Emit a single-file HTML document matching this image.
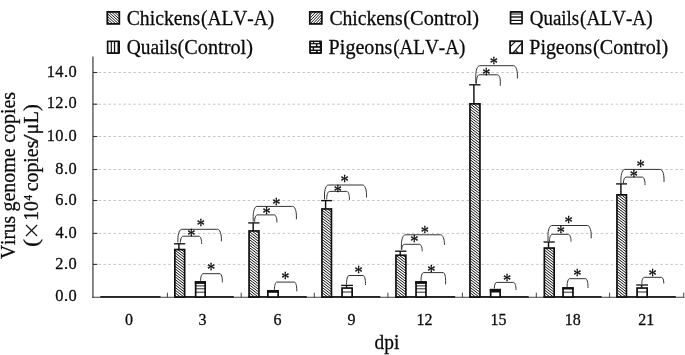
<!DOCTYPE html>
<html><head><meta charset="utf-8"><title>chart</title>
<style>html,body{margin:0;padding:0;background:#fff;}svg{display:block;will-change:transform;filter:grayscale(1);}text{font-family:"Liberation Serif",serif;fill:#0a0a0a;font-kerning:none;stroke:#0a0a0a;stroke-width:0.28px;}</style></head><body>
<svg width="685" height="355" viewBox="0 0 685 355">
<defs>
<pattern id="pd" width="1.8" height="1.8" patternUnits="userSpaceOnUse" patternTransform="rotate(45)"><rect width="1.8" height="1.8" fill="#fff"/><rect width="1.8" height="0.9" fill="#111"/></pattern>
<pattern id="pu" width="2.2" height="2.2" patternUnits="userSpaceOnUse" patternTransform="rotate(-45)"><rect width="2.2" height="2.2" fill="#fff"/><rect width="2.2" height="1.0" fill="#333"/></pattern>
</defs>
<rect width="685" height="355" fill="#fff"/>
<line x1="93.63" x2="684" y1="264.40" y2="264.40" stroke="#c6c6c6" stroke-width="1" stroke-dasharray="2.45 2.522"/>
<line x1="93.63" x2="684" y1="233.40" y2="233.40" stroke="#c6c6c6" stroke-width="1" stroke-dasharray="2.45 2.522"/>
<line x1="93.63" x2="684" y1="200.50" y2="200.50" stroke="#c6c6c6" stroke-width="1" stroke-dasharray="2.45 2.522"/>
<line x1="93.63" x2="684" y1="169.50" y2="169.50" stroke="#c6c6c6" stroke-width="1" stroke-dasharray="2.45 2.522"/>
<line x1="93.63" x2="684" y1="136.50" y2="136.50" stroke="#c6c6c6" stroke-width="1" stroke-dasharray="2.45 2.522"/>
<line x1="93.63" x2="684" y1="104.20" y2="104.20" stroke="#c6c6c6" stroke-width="1" stroke-dasharray="2.45 2.522"/>
<line x1="93.63" x2="684" y1="72.50" y2="72.50" stroke="#c6c6c6" stroke-width="1" stroke-dasharray="2.45 2.522"/>
<line x1="92.9" x2="92.9" y1="56.5" y2="297.7" stroke="#7a7a7a" stroke-width="1.8"/>
<line x1="92.0" x2="684.3" y1="297.3" y2="297.3" stroke="#404040" stroke-width="1.1"/>
<line x1="92.9" x2="97.30000000000001" y1="264.40" y2="264.40" stroke="#333" stroke-width="1.1"/>
<line x1="92.9" x2="97.30000000000001" y1="233.40" y2="233.40" stroke="#333" stroke-width="1.1"/>
<line x1="92.9" x2="97.30000000000001" y1="200.50" y2="200.50" stroke="#333" stroke-width="1.1"/>
<line x1="92.9" x2="97.30000000000001" y1="169.50" y2="169.50" stroke="#333" stroke-width="1.1"/>
<line x1="92.9" x2="97.30000000000001" y1="136.50" y2="136.50" stroke="#333" stroke-width="1.1"/>
<line x1="92.9" x2="97.30000000000001" y1="104.20" y2="104.20" stroke="#333" stroke-width="1.1"/>
<line x1="92.9" x2="97.30000000000001" y1="72.50" y2="72.50" stroke="#333" stroke-width="1.1"/>
<line x1="167.40" x2="167.40" y1="292.7" y2="297.6" stroke="#383838" stroke-width="0.95"/>
<line x1="241.20" x2="241.20" y1="292.7" y2="297.6" stroke="#383838" stroke-width="0.95"/>
<line x1="314.30" x2="314.30" y1="292.7" y2="297.6" stroke="#383838" stroke-width="0.95"/>
<line x1="387.90" x2="387.90" y1="292.7" y2="297.6" stroke="#383838" stroke-width="0.95"/>
<line x1="462.40" x2="462.40" y1="292.7" y2="297.6" stroke="#383838" stroke-width="0.95"/>
<line x1="536.30" x2="536.30" y1="292.7" y2="297.6" stroke="#383838" stroke-width="0.95"/>
<line x1="609.60" x2="609.60" y1="292.7" y2="297.6" stroke="#383838" stroke-width="0.95"/>
<line x1="683.70" x2="683.70" y1="292.7" y2="297.6" stroke="#383838" stroke-width="0.95"/>
<text x="55.28" y="300.90" font-size="16.4" letter-spacing="0.475">0.0</text>
<text x="55.18" y="268.50" font-size="16.4" letter-spacing="0.523">2.0</text>
<text x="55.58" y="237.50" font-size="16.4" letter-spacing="0.322">4.0</text>
<text x="55.20" y="204.60" font-size="16.4" letter-spacing="0.515">6.0</text>
<text x="55.28" y="173.60" font-size="16.4" letter-spacing="0.475">8.0</text>
<text x="46.66" y="140.60" font-size="16.4" letter-spacing="0.455">10.0</text>
<text x="46.66" y="108.30" font-size="16.4" letter-spacing="0.455">12.0</text>
<text x="46.66" y="76.60" font-size="16.4" letter-spacing="0.455">14.0</text>
<text x="124.95" y="324.50" font-size="16">0</text>
<text x="198.43" y="324.50" font-size="16">3</text>
<text x="273.49" y="324.50" font-size="16">6</text>
<text x="347.47" y="324.50" font-size="16">9</text>
<text x="416.54" y="324.50" font-size="16">12</text>
<text x="490.56" y="324.50" font-size="16">15</text>
<text x="564.85" y="324.50" font-size="16">18</text>
<text x="638.23" y="324.50" font-size="16">21</text>
<text x="374.60" y="349.00" font-size="20.8" textLength="24.77" lengthAdjust="spacingAndGlyphs">dpi</text>
<line x1="100.3" x2="160.5" y1="296.85" y2="296.85" stroke="#222" stroke-width="1.9"/>
<line x1="174.00" x2="233.80" y1="296.85" y2="296.85" stroke="#222" stroke-width="1.9"/>
<line x1="248.20" x2="306.80" y1="296.85" y2="296.85" stroke="#222" stroke-width="1.9"/>
<line x1="321.10" x2="380.30" y1="296.85" y2="296.85" stroke="#222" stroke-width="1.9"/>
<line x1="395.10" x2="455.20" y1="296.85" y2="296.85" stroke="#222" stroke-width="1.9"/>
<line x1="469.10" x2="528.70" y1="296.85" y2="296.85" stroke="#222" stroke-width="1.9"/>
<line x1="543.50" x2="601.60" y1="296.85" y2="296.85" stroke="#222" stroke-width="1.9"/>
<line x1="616.10" x2="675.80" y1="296.85" y2="296.85" stroke="#222" stroke-width="1.9"/>
<clipPath id="cb0"><rect x="174.85" y="249.55" width="9.80" height="47.45"/></clipPath><rect x="174.85" y="249.55" width="9.80" height="47.45" fill="#fff"/><path d="M173.85,235.97L185.65,245.06M173.85,238.63L185.65,247.72M173.85,241.29L185.65,250.38M173.85,243.95L185.65,253.04M173.85,246.61L185.65,255.70M173.85,249.27L185.65,258.36M173.85,251.93L185.65,261.02M173.85,254.59L185.65,263.68M173.85,257.25L185.65,266.34M173.85,259.91L185.65,269.00M173.85,262.57L185.65,271.66M173.85,265.23L185.65,274.32M173.85,267.89L185.65,276.98M173.85,270.55L185.65,279.64M173.85,273.21L185.65,282.30M173.85,275.87L185.65,284.96M173.85,278.53L185.65,287.62M173.85,281.19L185.65,290.28M173.85,283.85L185.65,292.94M173.85,286.51L185.65,295.60M173.85,289.17L185.65,298.26M173.85,291.83L185.65,300.92M173.85,294.49L185.65,303.58M173.85,297.15L185.65,306.24" stroke="#111" stroke-width="1.0" fill="none" clip-path="url(#cb0)"/><rect x="174.85" y="249.55" width="9.80" height="47.45" fill="none" stroke="#111" stroke-width="1.7"/>
<line x1="178.90" x2="178.90" y1="243.80" y2="249.20" stroke="#111" stroke-width="1.45"/>
<line x1="174.00" x2="185.20" y1="243.80" y2="243.80" stroke="#111" stroke-width="1.35"/>
<clipPath id="cb1"><rect x="249.05" y="230.95" width="9.90" height="66.05"/></clipPath><rect x="249.05" y="230.95" width="9.90" height="66.05" fill="#fff"/><path d="M248.05,217.35L259.95,226.51M248.05,220.01L259.95,229.17M248.05,222.67L259.95,231.83M248.05,225.33L259.95,234.49M248.05,227.99L259.95,237.15M248.05,230.65L259.95,239.81M248.05,233.31L259.95,242.47M248.05,235.97L259.95,245.13M248.05,238.63L259.95,247.79M248.05,241.29L259.95,250.45M248.05,243.95L259.95,253.11M248.05,246.61L259.95,255.77M248.05,249.27L259.95,258.43M248.05,251.93L259.95,261.09M248.05,254.59L259.95,263.75M248.05,257.25L259.95,266.41M248.05,259.91L259.95,269.07M248.05,262.57L259.95,271.73M248.05,265.23L259.95,274.39M248.05,267.89L259.95,277.05M248.05,270.55L259.95,279.71M248.05,273.21L259.95,282.37M248.05,275.87L259.95,285.03M248.05,278.53L259.95,287.69M248.05,281.19L259.95,290.35M248.05,283.85L259.95,293.01M248.05,286.51L259.95,295.67M248.05,289.17L259.95,298.33M248.05,291.83L259.95,300.99M248.05,294.49L259.95,303.65M248.05,297.15L259.95,306.31" stroke="#111" stroke-width="1.0" fill="none" clip-path="url(#cb1)"/><rect x="249.05" y="230.95" width="9.90" height="66.05" fill="none" stroke="#111" stroke-width="1.7"/>
<line x1="253.20" x2="253.20" y1="222.90" y2="230.60" stroke="#111" stroke-width="1.45"/>
<line x1="248.20" x2="259.50" y1="222.90" y2="222.90" stroke="#111" stroke-width="1.35"/>
<clipPath id="cb2"><rect x="321.95" y="208.95" width="9.50" height="88.05"/></clipPath><rect x="321.95" y="208.95" width="9.50" height="88.05" fill="#fff"/><path d="M320.95,196.07L332.45,204.92M320.95,198.73L332.45,207.58M320.95,201.39L332.45,210.24M320.95,204.05L332.45,212.90M320.95,206.71L332.45,215.56M320.95,209.37L332.45,218.22M320.95,212.03L332.45,220.88M320.95,214.69L332.45,223.54M320.95,217.35L332.45,226.20M320.95,220.01L332.45,228.86M320.95,222.67L332.45,231.52M320.95,225.33L332.45,234.18M320.95,227.99L332.45,236.84M320.95,230.65L332.45,239.50M320.95,233.31L332.45,242.16M320.95,235.97L332.45,244.82M320.95,238.63L332.45,247.48M320.95,241.29L332.45,250.14M320.95,243.95L332.45,252.80M320.95,246.61L332.45,255.46M320.95,249.27L332.45,258.12M320.95,251.93L332.45,260.78M320.95,254.59L332.45,263.44M320.95,257.25L332.45,266.10M320.95,259.91L332.45,268.76M320.95,262.57L332.45,271.42M320.95,265.23L332.45,274.08M320.95,267.89L332.45,276.75M320.95,270.55L332.45,279.41M320.95,273.21L332.45,282.07M320.95,275.87L332.45,284.73M320.95,278.53L332.45,287.39M320.95,281.19L332.45,290.05M320.95,283.85L332.45,292.71M320.95,286.51L332.45,295.37M320.95,289.17L332.45,298.03M320.95,291.83L332.45,300.69M320.95,294.49L332.45,303.35M320.95,297.15L332.45,306.01" stroke="#111" stroke-width="1.0" fill="none" clip-path="url(#cb2)"/><rect x="321.95" y="208.95" width="9.50" height="88.05" fill="none" stroke="#111" stroke-width="1.7"/>
<line x1="325.60" x2="325.60" y1="200.60" y2="208.60" stroke="#111" stroke-width="1.45"/>
<line x1="321.10" x2="332.00" y1="200.60" y2="200.60" stroke="#111" stroke-width="1.35"/>
<clipPath id="cb3"><rect x="395.95" y="255.25" width="9.90" height="41.75"/></clipPath><rect x="395.95" y="255.25" width="9.90" height="41.75" fill="#fff"/><path d="M394.95,243.95L406.85,253.11M394.95,246.61L406.85,255.77M394.95,249.27L406.85,258.43M394.95,251.93L406.85,261.09M394.95,254.59L406.85,263.75M394.95,257.25L406.85,266.41M394.95,259.91L406.85,269.07M394.95,262.57L406.85,271.73M394.95,265.23L406.85,274.39M394.95,267.89L406.85,277.05M394.95,270.55L406.85,279.71M394.95,273.21L406.85,282.37M394.95,275.87L406.85,285.03M394.95,278.53L406.85,287.69M394.95,281.19L406.85,290.35M394.95,283.85L406.85,293.01M394.95,286.51L406.85,295.67M394.95,289.17L406.85,298.33M394.95,291.83L406.85,300.99M394.95,294.49L406.85,303.65M394.95,297.15L406.85,306.31" stroke="#111" stroke-width="1.0" fill="none" clip-path="url(#cb3)"/><rect x="395.95" y="255.25" width="9.90" height="41.75" fill="none" stroke="#111" stroke-width="1.7"/>
<line x1="400.20" x2="400.20" y1="251.20" y2="254.90" stroke="#111" stroke-width="1.45"/>
<line x1="395.10" x2="406.40" y1="251.20" y2="251.20" stroke="#111" stroke-width="1.35"/>
<clipPath id="cb4"><rect x="469.95" y="103.85" width="10.00" height="193.15"/></clipPath><rect x="469.95" y="103.85" width="10.00" height="193.15" fill="#fff"/><path d="M468.95,92.33L480.95,101.57M468.95,94.99L480.95,104.23M468.95,97.65L480.95,106.89M468.95,100.31L480.95,109.55M468.95,102.97L480.95,112.21M468.95,105.63L480.95,114.87M468.95,108.29L480.95,117.53M468.95,110.95L480.95,120.19M468.95,113.61L480.95,122.85M468.95,116.27L480.95,125.51M468.95,118.93L480.95,128.17M468.95,121.59L480.95,130.83M468.95,124.25L480.95,133.49M468.95,126.91L480.95,136.15M468.95,129.57L480.95,138.81M468.95,132.23L480.95,141.47M468.95,134.89L480.95,144.13M468.95,137.55L480.95,146.79M468.95,140.21L480.95,149.45M468.95,142.87L480.95,152.11M468.95,145.53L480.95,154.77M468.95,148.19L480.95,157.43M468.95,150.85L480.95,160.09M468.95,153.51L480.95,162.75M468.95,156.17L480.95,165.41M468.95,158.83L480.95,168.07M468.95,161.49L480.95,170.73M468.95,164.15L480.95,173.39M468.95,166.81L480.95,176.05M468.95,169.47L480.95,178.71M468.95,172.13L480.95,181.37M468.95,174.79L480.95,184.03M468.95,177.45L480.95,186.69M468.95,180.11L480.95,189.35M468.95,182.77L480.95,192.01M468.95,185.43L480.95,194.67M468.95,188.09L480.95,197.33M468.95,190.75L480.95,199.99M468.95,193.41L480.95,202.65M468.95,196.07L480.95,205.31M468.95,198.73L480.95,207.97M468.95,201.39L480.95,210.63M468.95,204.05L480.95,213.29M468.95,206.71L480.95,215.95M468.95,209.37L480.95,218.61M468.95,212.03L480.95,221.27M468.95,214.69L480.95,223.93M468.95,217.35L480.95,226.59M468.95,220.01L480.95,229.25M468.95,222.67L480.95,231.91M468.95,225.33L480.95,234.57M468.95,227.99L480.95,237.23M468.95,230.65L480.95,239.89M468.95,233.31L480.95,242.55M468.95,235.97L480.95,245.21M468.95,238.63L480.95,247.87M468.95,241.29L480.95,250.53M468.95,243.95L480.95,253.19M468.95,246.61L480.95,255.85M468.95,249.27L480.95,258.51M468.95,251.93L480.95,261.17M468.95,254.59L480.95,263.83M468.95,257.25L480.95,266.49M468.95,259.91L480.95,269.15M468.95,262.57L480.95,271.81M468.95,265.23L480.95,274.47M468.95,267.89L480.95,277.13M468.95,270.55L480.95,279.79M468.95,273.21L480.95,282.45M468.95,275.87L480.95,285.11M468.95,278.53L480.95,287.77M468.95,281.19L480.95,290.43M468.95,283.85L480.95,293.09M468.95,286.51L480.95,295.75M468.95,289.17L480.95,298.41M468.95,291.83L480.95,301.07M468.95,294.49L480.95,303.73M468.95,297.15L480.95,306.39" stroke="#111" stroke-width="1.0" fill="none" clip-path="url(#cb4)"/><rect x="469.95" y="103.85" width="10.00" height="193.15" fill="none" stroke="#111" stroke-width="1.7"/>
<line x1="473.90" x2="473.90" y1="84.80" y2="103.50" stroke="#111" stroke-width="1.45"/>
<line x1="469.10" x2="480.50" y1="84.80" y2="84.80" stroke="#111" stroke-width="1.35"/>
<clipPath id="cb5"><rect x="544.35" y="248.05" width="9.80" height="48.95"/></clipPath><rect x="544.35" y="248.05" width="9.80" height="48.95" fill="#fff"/><path d="M543.35,235.97L555.15,245.06M543.35,238.63L555.15,247.72M543.35,241.29L555.15,250.38M543.35,243.95L555.15,253.04M543.35,246.61L555.15,255.70M543.35,249.27L555.15,258.36M543.35,251.93L555.15,261.02M543.35,254.59L555.15,263.68M543.35,257.25L555.15,266.34M543.35,259.91L555.15,269.00M543.35,262.57L555.15,271.66M543.35,265.23L555.15,274.32M543.35,267.89L555.15,276.98M543.35,270.55L555.15,279.64M543.35,273.21L555.15,282.30M543.35,275.87L555.15,284.96M543.35,278.53L555.15,287.62M543.35,281.19L555.15,290.28M543.35,283.85L555.15,292.94M543.35,286.51L555.15,295.60M543.35,289.17L555.15,298.26M543.35,291.83L555.15,300.92M543.35,294.49L555.15,303.58M543.35,297.15L555.15,306.24" stroke="#111" stroke-width="1.0" fill="none" clip-path="url(#cb5)"/><rect x="544.35" y="248.05" width="9.80" height="48.95" fill="none" stroke="#111" stroke-width="1.7"/>
<line x1="548.50" x2="548.50" y1="242.00" y2="247.70" stroke="#111" stroke-width="1.45"/>
<line x1="543.50" x2="554.70" y1="242.00" y2="242.00" stroke="#111" stroke-width="1.35"/>
<clipPath id="cb6"><rect x="616.95" y="194.85" width="9.50" height="102.15"/></clipPath><rect x="616.95" y="194.85" width="9.50" height="102.15" fill="#fff"/><path d="M615.95,182.77L627.45,191.62M615.95,185.43L627.45,194.28M615.95,188.09L627.45,196.94M615.95,190.75L627.45,199.60M615.95,193.41L627.45,202.26M615.95,196.07L627.45,204.92M615.95,198.73L627.45,207.58M615.95,201.39L627.45,210.24M615.95,204.05L627.45,212.90M615.95,206.71L627.45,215.56M615.95,209.37L627.45,218.22M615.95,212.03L627.45,220.88M615.95,214.69L627.45,223.54M615.95,217.35L627.45,226.20M615.95,220.01L627.45,228.86M615.95,222.67L627.45,231.52M615.95,225.33L627.45,234.18M615.95,227.99L627.45,236.84M615.95,230.65L627.45,239.50M615.95,233.31L627.45,242.16M615.95,235.97L627.45,244.82M615.95,238.63L627.45,247.48M615.95,241.29L627.45,250.14M615.95,243.95L627.45,252.80M615.95,246.61L627.45,255.46M615.95,249.27L627.45,258.12M615.95,251.93L627.45,260.78M615.95,254.59L627.45,263.44M615.95,257.25L627.45,266.10M615.95,259.91L627.45,268.76M615.95,262.57L627.45,271.42M615.95,265.23L627.45,274.08M615.95,267.89L627.45,276.74M615.95,270.55L627.45,279.40M615.95,273.21L627.45,282.06M615.95,275.87L627.45,284.73M615.95,278.53L627.45,287.39M615.95,281.19L627.45,290.05M615.95,283.85L627.45,292.71M615.95,286.51L627.45,295.37M615.95,289.17L627.45,298.03M615.95,291.83L627.45,300.69M615.95,294.49L627.45,303.35M615.95,297.15L627.45,306.01" stroke="#111" stroke-width="1.0" fill="none" clip-path="url(#cb6)"/><rect x="616.95" y="194.85" width="9.50" height="102.15" fill="none" stroke="#111" stroke-width="1.7"/>
<line x1="620.90" x2="620.90" y1="183.90" y2="194.50" stroke="#111" stroke-width="1.45"/>
<line x1="616.10" x2="627.00" y1="183.90" y2="183.90" stroke="#111" stroke-width="1.35"/>
<rect x="195.65" y="282.05" width="9.50" height="14.95" fill="#fff" stroke="#111" stroke-width="1.7"/>
<rect x="194.80" y="281.20" width="11.20" height="2.70" fill="#111"/>
<line x1="195.40" x2="205.40" y1="285.90" y2="285.90" stroke="#000" stroke-width="0.85"/>
<line x1="195.40" x2="205.40" y1="288.80" y2="288.80" stroke="#000" stroke-width="0.85"/>
<line x1="195.40" x2="205.40" y1="292.20" y2="292.20" stroke="#000" stroke-width="0.85"/>
<rect x="267.85" y="290.95" width="10.30" height="6.05" fill="#fff" stroke="#111" stroke-width="1.7"/>
<rect x="267.00" y="290.10" width="12.00" height="2.70" fill="#111"/>
<rect x="342.05" y="288.05" width="10.10" height="8.95" fill="#fff" stroke="#111" stroke-width="1.7"/>
<line x1="341.20" x2="353.00" y1="285.40" y2="285.40" stroke="#111" stroke-width="1.3"/>
<line x1="346.60" x2="346.60" y1="285.40" y2="287.70" stroke="#111" stroke-width="1.45"/>
<line x1="341.80" x2="352.40" y1="292.00" y2="292.00" stroke="#000" stroke-width="0.85"/>
<rect x="416.05" y="282.05" width="9.90" height="14.95" fill="#fff" stroke="#111" stroke-width="1.7"/>
<rect x="415.20" y="281.20" width="11.60" height="2.70" fill="#111"/>
<line x1="415.80" x2="426.20" y1="285.90" y2="285.90" stroke="#000" stroke-width="0.85"/>
<line x1="415.80" x2="426.20" y1="288.80" y2="288.80" stroke="#000" stroke-width="0.85"/>
<line x1="415.80" x2="426.20" y1="292.20" y2="292.20" stroke="#000" stroke-width="0.85"/>
<rect x="490.65" y="289.75" width="9.50" height="7.25" fill="#fff" stroke="#111" stroke-width="1.7"/>
<rect x="489.80" y="288.90" width="11.20" height="3.60" fill="#111"/>
<rect x="563.05" y="288.05" width="9.90" height="8.95" fill="#fff" stroke="#111" stroke-width="1.7"/>
<rect x="562.20" y="287.20" width="11.60" height="2.30" fill="#111"/>
<line x1="562.80" x2="573.20" y1="292.20" y2="292.20" stroke="#000" stroke-width="0.85"/>
<rect x="637.05" y="288.05" width="10.10" height="8.95" fill="#fff" stroke="#111" stroke-width="1.7"/>
<line x1="636.20" x2="648.00" y1="285.00" y2="285.00" stroke="#111" stroke-width="1.3"/>
<line x1="641.60" x2="641.60" y1="285.00" y2="287.70" stroke="#111" stroke-width="1.45"/>
<line x1="636.80" x2="647.40" y1="292.00" y2="292.00" stroke="#000" stroke-width="0.85"/>
<path d="M177.90,242.50 V239.30 C177.90,233.78 179.60,229.30 181.70,229.30 H217.60 C219.70,229.30 221.40,233.55 221.40,238.80 V241.30" fill="none" stroke="#333" stroke-width="1.0"/>
<path d="M180.40,242.80 V242.47 C180.40,239.01 181.61,236.20 183.10,236.20 H198.90 C200.39,236.20 201.60,239.11 201.60,242.70 V243.90" fill="none" stroke="#333" stroke-width="1.0"/>
<path d="M200.60,281.00 V280.63 C200.60,276.80 201.67,273.70 203.00,273.70 H220.00 C221.33,273.70 222.40,277.28 222.40,281.70 V282.40" fill="none" stroke="#333" stroke-width="1.0"/>
<path d="M253.20,221.50 V216.40 C253.20,210.88 254.90,206.40 257.00,206.40 H292.60 C294.70,206.40 296.40,210.65 296.40,215.90 V219.30" fill="none" stroke="#333" stroke-width="1.0"/>
<path d="M254.60,222.00 V221.65 C254.60,217.92 255.81,214.90 257.30,214.90 H274.20 C275.69,214.90 276.90,217.81 276.90,221.40 V222.50" fill="none" stroke="#333" stroke-width="1.0"/>
<path d="M274.40,290.00 V289.61 C274.40,285.46 275.47,282.10 276.80,282.10 H294.40 C295.73,282.10 296.80,285.68 296.80,290.10 V291.30" fill="none" stroke="#333" stroke-width="1.0"/>
<path d="M324.50,199.50 V195.00 C324.50,189.48 326.20,185.00 328.30,185.00 H362.70 C364.80,185.00 366.50,189.25 366.50,194.50 V197.50" fill="none" stroke="#333" stroke-width="1.0"/>
<path d="M326.70,199.50 V199.09 C326.70,194.85 327.91,191.40 329.40,191.40 H346.70 C348.19,191.40 349.40,194.31 349.40,197.90 V199.80" fill="none" stroke="#333" stroke-width="1.0"/>
<path d="M346.50,284.50 V284.05 C346.50,279.33 347.57,275.50 348.90,275.50 H363.10 C364.43,275.50 365.50,279.08 365.50,283.50 V285.00" fill="none" stroke="#333" stroke-width="1.0"/>
<path d="M401.40,249.50 V244.80 C401.40,239.28 403.10,234.80 405.20,234.80 H440.70 C442.80,234.80 444.50,239.05 444.50,244.30 V245.00" fill="none" stroke="#333" stroke-width="1.0"/>
<path d="M401.70,250.00 V249.72 C401.70,246.72 402.91,244.30 404.40,244.30 H419.50 C420.99,244.30 422.20,247.21 422.20,250.80 V251.30" fill="none" stroke="#333" stroke-width="1.0"/>
<path d="M421.00,281.00 V280.58 C421.00,276.17 422.07,272.60 423.40,272.60 H443.20 C444.53,272.60 445.60,276.18 445.60,280.60 V284.30" fill="none" stroke="#333" stroke-width="1.0"/>
<path d="M475.80,83.50 V75.70 C475.80,70.18 477.50,65.70 479.60,65.70 H513.60 C515.70,65.70 517.40,69.95 517.40,75.20 V78.40" fill="none" stroke="#333" stroke-width="1.0"/>
<path d="M476.40,84.00 V83.54 C476.40,78.71 477.61,74.80 479.10,74.80 H497.60 C499.09,74.80 500.30,77.71 500.30,81.30 V85.70" fill="none" stroke="#333" stroke-width="1.0"/>
<path d="M494.30,288.50 V288.19 C494.30,284.99 495.37,282.40 496.70,282.40 H513.60 C514.93,282.40 516.00,285.67 516.00,289.72 V290.10" fill="none" stroke="#333" stroke-width="1.0"/>
<path d="M548.00,241.00 V235.50 C548.00,229.98 549.70,225.50 551.80,225.50 H587.40 C589.50,225.50 591.20,229.75 591.20,235.00 V238.40" fill="none" stroke="#333" stroke-width="1.0"/>
<path d="M549.50,241.30 V240.95 C549.50,237.28 550.71,234.30 552.20,234.30 H568.30 C569.79,234.30 571.00,237.21 571.00,240.80 V241.60" fill="none" stroke="#333" stroke-width="1.0"/>
<path d="M567.10,287.00 V286.58 C567.10,282.23 568.17,278.70 569.50,278.70 H585.60 C586.93,278.70 588.00,282.28 588.00,286.70 V288.00" fill="none" stroke="#333" stroke-width="1.0"/>
<path d="M620.90,183.30 V179.40 C620.90,173.88 622.60,169.40 624.70,169.40 H660.20 C662.30,169.40 664.00,173.65 664.00,178.90 V182.00" fill="none" stroke="#333" stroke-width="1.0"/>
<path d="M623.40,183.30 V182.99 C623.40,179.74 624.61,177.10 626.10,177.10 H642.30 C643.79,177.10 645.00,180.01 645.00,183.60 V185.10" fill="none" stroke="#333" stroke-width="1.0"/>
<path d="M641.80,284.00 V283.67 C641.80,280.15 642.87,277.30 644.20,277.30 H661.40 C662.73,277.30 663.80,279.94 663.80,283.19 V283.50" fill="none" stroke="#333" stroke-width="1.0"/>
<text transform="translate(200.90,223.10) scale(0.86,1.02)" x="0" y="8.96" font-size="19" text-anchor="middle" fill="#2a2a2a" stroke="none">*</text>
<text transform="translate(191.40,232.60) scale(0.86,1.02)" x="0" y="8.96" font-size="19" text-anchor="middle" fill="#2a2a2a" stroke="none">*</text>
<text transform="translate(211.10,266.80) scale(0.86,1.02)" x="0" y="8.96" font-size="19" text-anchor="middle" fill="#2a2a2a" stroke="none">*</text>
<text transform="translate(276.30,201.80) scale(0.86,1.02)" x="0" y="8.96" font-size="19" text-anchor="middle" fill="#2a2a2a" stroke="none">*</text>
<text transform="translate(266.60,211.00) scale(0.86,1.02)" x="0" y="8.96" font-size="19" text-anchor="middle" fill="#2a2a2a" stroke="none">*</text>
<text transform="translate(285.40,276.30) scale(0.86,1.02)" x="0" y="8.96" font-size="19" text-anchor="middle" fill="#2a2a2a" stroke="none">*</text>
<text transform="translate(344.60,179.30) scale(0.86,1.02)" x="0" y="8.96" font-size="19" text-anchor="middle" fill="#2a2a2a" stroke="none">*</text>
<text transform="translate(337.70,189.30) scale(0.86,1.02)" x="0" y="8.96" font-size="19" text-anchor="middle" fill="#2a2a2a" stroke="none">*</text>
<text transform="translate(358.60,269.70) scale(0.86,1.02)" x="0" y="8.96" font-size="19" text-anchor="middle" fill="#2a2a2a" stroke="none">*</text>
<text transform="translate(424.80,229.70) scale(0.86,1.02)" x="0" y="8.96" font-size="19" text-anchor="middle" fill="#2a2a2a" stroke="none">*</text>
<text transform="translate(414.20,239.30) scale(0.86,1.02)" x="0" y="8.96" font-size="19" text-anchor="middle" fill="#2a2a2a" stroke="none">*</text>
<text transform="translate(431.40,268.60) scale(0.86,1.02)" x="0" y="8.96" font-size="19" text-anchor="middle" fill="#2a2a2a" stroke="none">*</text>
<text transform="translate(493.70,61.00) scale(0.86,1.02)" x="0" y="8.96" font-size="19" text-anchor="middle" fill="#2a2a2a" stroke="none">*</text>
<text transform="translate(486.40,71.90) scale(0.86,1.02)" x="0" y="8.96" font-size="19" text-anchor="middle" fill="#2a2a2a" stroke="none">*</text>
<text transform="translate(507.00,277.80) scale(0.86,1.02)" x="0" y="8.96" font-size="19" text-anchor="middle" fill="#2a2a2a" stroke="none">*</text>
<text transform="translate(568.60,219.70) scale(0.86,1.02)" x="0" y="8.96" font-size="19" text-anchor="middle" fill="#2a2a2a" stroke="none">*</text>
<text transform="translate(560.90,230.30) scale(0.86,1.02)" x="0" y="8.96" font-size="19" text-anchor="middle" fill="#2a2a2a" stroke="none">*</text>
<text transform="translate(577.30,273.00) scale(0.86,1.02)" x="0" y="8.96" font-size="19" text-anchor="middle" fill="#2a2a2a" stroke="none">*</text>
<text transform="translate(640.60,164.00) scale(0.86,1.02)" x="0" y="8.96" font-size="19" text-anchor="middle" fill="#2a2a2a" stroke="none">*</text>
<text transform="translate(633.80,173.50) scale(0.86,1.02)" x="0" y="8.96" font-size="19" text-anchor="middle" fill="#2a2a2a" stroke="none">*</text>
<text transform="translate(652.60,272.70) scale(0.86,1.02)" x="0" y="8.96" font-size="19" text-anchor="middle" fill="#2a2a2a" stroke="none">*</text>
<clipPath id="lgpd"><rect x="107.30" y="11.90" width="12.00" height="12.00"/></clipPath><rect x="107.30" y="11.90" width="12.00" height="12.00" fill="#fff"/><path d="M106.30,-3.62L120.30,9.26M106.30,-0.92L120.30,11.96M106.30,1.78L120.30,14.66M106.30,4.48L120.30,17.36M106.30,7.18L120.30,20.06M106.30,9.88L120.30,22.76M106.30,12.58L120.30,25.46M106.30,15.28L120.30,28.16M106.30,17.98L120.30,30.86M106.30,20.68L120.30,33.56M106.30,23.38L120.30,36.26" stroke="#111" stroke-width="0.95" fill="none" clip-path="url(#lgpd)"/><rect x="107.30" y="11.90" width="12.00" height="12.00" fill="none" stroke="#111" stroke-width="1.8"/>
<text x="126.69" y="24.50" font-size="20.8" textLength="73.42" lengthAdjust="spacingAndGlyphs">Chickens</text>
<text x="200.95" y="24.50" font-size="20.8" textLength="73.41" lengthAdjust="spacingAndGlyphs">(ALV-A)</text>
<rect x="106.8" y="40.4" width="13.2" height="13.5" rx="0.8" fill="#111"/><rect x="108.50" y="42.10" width="2.20" height="10.10" fill="#fff"/><rect x="111.90" y="42.10" width="2.00" height="10.10" fill="#fff"/><rect x="115.20" y="42.10" width="2.30" height="10.10" fill="#fff"/>
<text x="126.70" y="53.50" font-size="20.8" textLength="50.80" lengthAdjust="spacingAndGlyphs">Quails</text>
<text x="177.51" y="53.50" font-size="20.8" textLength="75.38" lengthAdjust="spacingAndGlyphs">(Control)</text>
<clipPath id="lgpu"><rect x="309.80" y="11.90" width="12.00" height="12.00"/></clipPath><rect x="309.80" y="11.90" width="12.00" height="12.00" fill="#fff"/><path d="M308.80,7.85L322.80,-6.85M308.80,10.75L322.80,-3.95M308.80,13.65L322.80,-1.05M308.80,16.55L322.80,1.85M308.80,19.45L322.80,4.75M308.80,22.35L322.80,7.65M308.80,25.25L322.80,10.55M308.80,28.15L322.80,13.45M308.80,31.05L322.80,16.35M308.80,33.95L322.80,19.25M308.80,36.85L322.80,22.15M308.80,39.75L322.80,25.05" stroke="#111" stroke-width="0.95" fill="none" clip-path="url(#lgpu)"/><rect x="309.80" y="11.90" width="12.00" height="12.00" fill="none" stroke="#111" stroke-width="1.8"/>
<text x="329.39" y="24.50" font-size="20.8" textLength="73.22" lengthAdjust="spacingAndGlyphs">Chickens</text>
<text x="403.31" y="24.50" font-size="20.8" textLength="75.69" lengthAdjust="spacingAndGlyphs">(Control)</text>
<rect x="309.09999999999997" y="40.4" width="12.899999999999999" height="13.5" rx="0.8" fill="#111"/><rect x="310.90" y="42.10" width="2.10" height="1.00" fill="#fff"/><rect x="314.10" y="42.10" width="5.10" height="1.00" fill="#fff"/><rect x="310.90" y="44.30" width="5.00" height="1.80" fill="#fff"/><rect x="317.40" y="44.30" width="2.40" height="1.80" fill="#fff"/><rect x="310.90" y="47.80" width="1.80" height="1.80" fill="#fff"/><rect x="314.10" y="47.80" width="5.70" height="1.80" fill="#fff"/><rect x="310.90" y="51.00" width="5.00" height="1.10" fill="#fff"/><rect x="317.70" y="51.00" width="2.50" height="1.10" fill="#fff"/>
<text x="328.62" y="53.50" font-size="20.8" textLength="63.71" lengthAdjust="spacingAndGlyphs">Pigeons</text>
<text x="393.16" y="53.50" font-size="20.8" textLength="72.18" lengthAdjust="spacingAndGlyphs">(ALV-A)</text>
<rect x="509.7" y="10.9" width="13.2" height="13.5" rx="0.8" fill="#111"/><rect x="511.4" y="12.70" width="9.799999999999999" height="1.8" fill="#8a8a8a"/><rect x="511.4" y="14.70" width="9.799999999999999" height="1.60" fill="#fff"/><rect x="511.4" y="17.70" width="9.799999999999999" height="2.10" fill="#fff"/><rect x="511.4" y="21.00" width="9.799999999999999" height="2.00" fill="#fff"/>
<text x="529.82" y="24.50" font-size="20.8" textLength="49.36" lengthAdjust="spacingAndGlyphs">Quails</text>
<text x="580.06" y="24.50" font-size="20.8" textLength="72.59" lengthAdjust="spacingAndGlyphs">(ALV-A)</text>
<path d="M513.1,53.0 L521.7,43.2 M510.5,46.4 L515.3,41.6 M512.9,53.0 L515.5,50.4 L518.1,53.0" stroke="#111" stroke-width="1.15" fill="none"/><rect x="510.1" y="41.2" width="12.0" height="12.0" fill="none" stroke="#111" stroke-width="1.8"/>
<text x="529.33" y="53.50" font-size="20.8" textLength="62.99" lengthAdjust="spacingAndGlyphs">Pigeons</text>
<text x="593.11" y="53.50" font-size="20.8" textLength="75.07" lengthAdjust="spacingAndGlyphs">(Control)</text>
<text transform="translate(14.9,258.8) rotate(-90)" x="-0.22" y="0" font-size="20.6" textLength="43.12" lengthAdjust="spacingAndGlyphs">Virus</text>
<text transform="translate(14.9,210.7) rotate(-90)" x="-0.86" y="0" font-size="20.6" textLength="63.05" lengthAdjust="spacingAndGlyphs">genome</text>
<text transform="translate(14.9,142.0) rotate(-90)" x="-0.76" y="0" font-size="20.6" textLength="50.67" lengthAdjust="spacingAndGlyphs">copies</text>
<text transform="translate(37.6,245.9) rotate(-90)" x="-1.08" y="0" font-size="20.6" textLength="8.17" lengthAdjust="spacingAndGlyphs">(</text>
<path d="M26.0,236.0 L37.1,225.0 M26.0,225.0 L37.1,236.0" stroke="#111" stroke-width="1.15" fill="none"/>
<text transform="translate(37.6,219.0) rotate(-90)" x="-1.73" y="0" font-size="20.6" textLength="19.68" lengthAdjust="spacingAndGlyphs">10</text>
<text transform="translate(31.7,200.3) rotate(-90)" x="-0.22" y="0" font-size="12" textLength="5.59" lengthAdjust="spacingAndGlyphs">4</text>
<text transform="translate(37.6,190.6) rotate(-90)" x="-0.76" y="0" font-size="20.6" textLength="50.78" lengthAdjust="spacingAndGlyphs">copies</text>
<text transform="translate(37.6,141.9) rotate(-90)" x="0.00" y="0" font-size="20.6" textLength="7.50" lengthAdjust="spacingAndGlyphs">/</text>
<text transform="translate(37.6,132.8) rotate(-90)" x="-1.66" y="0" font-size="20.6" textLength="30.36" lengthAdjust="spacingAndGlyphs">μL)</text>
</svg></body></html>
